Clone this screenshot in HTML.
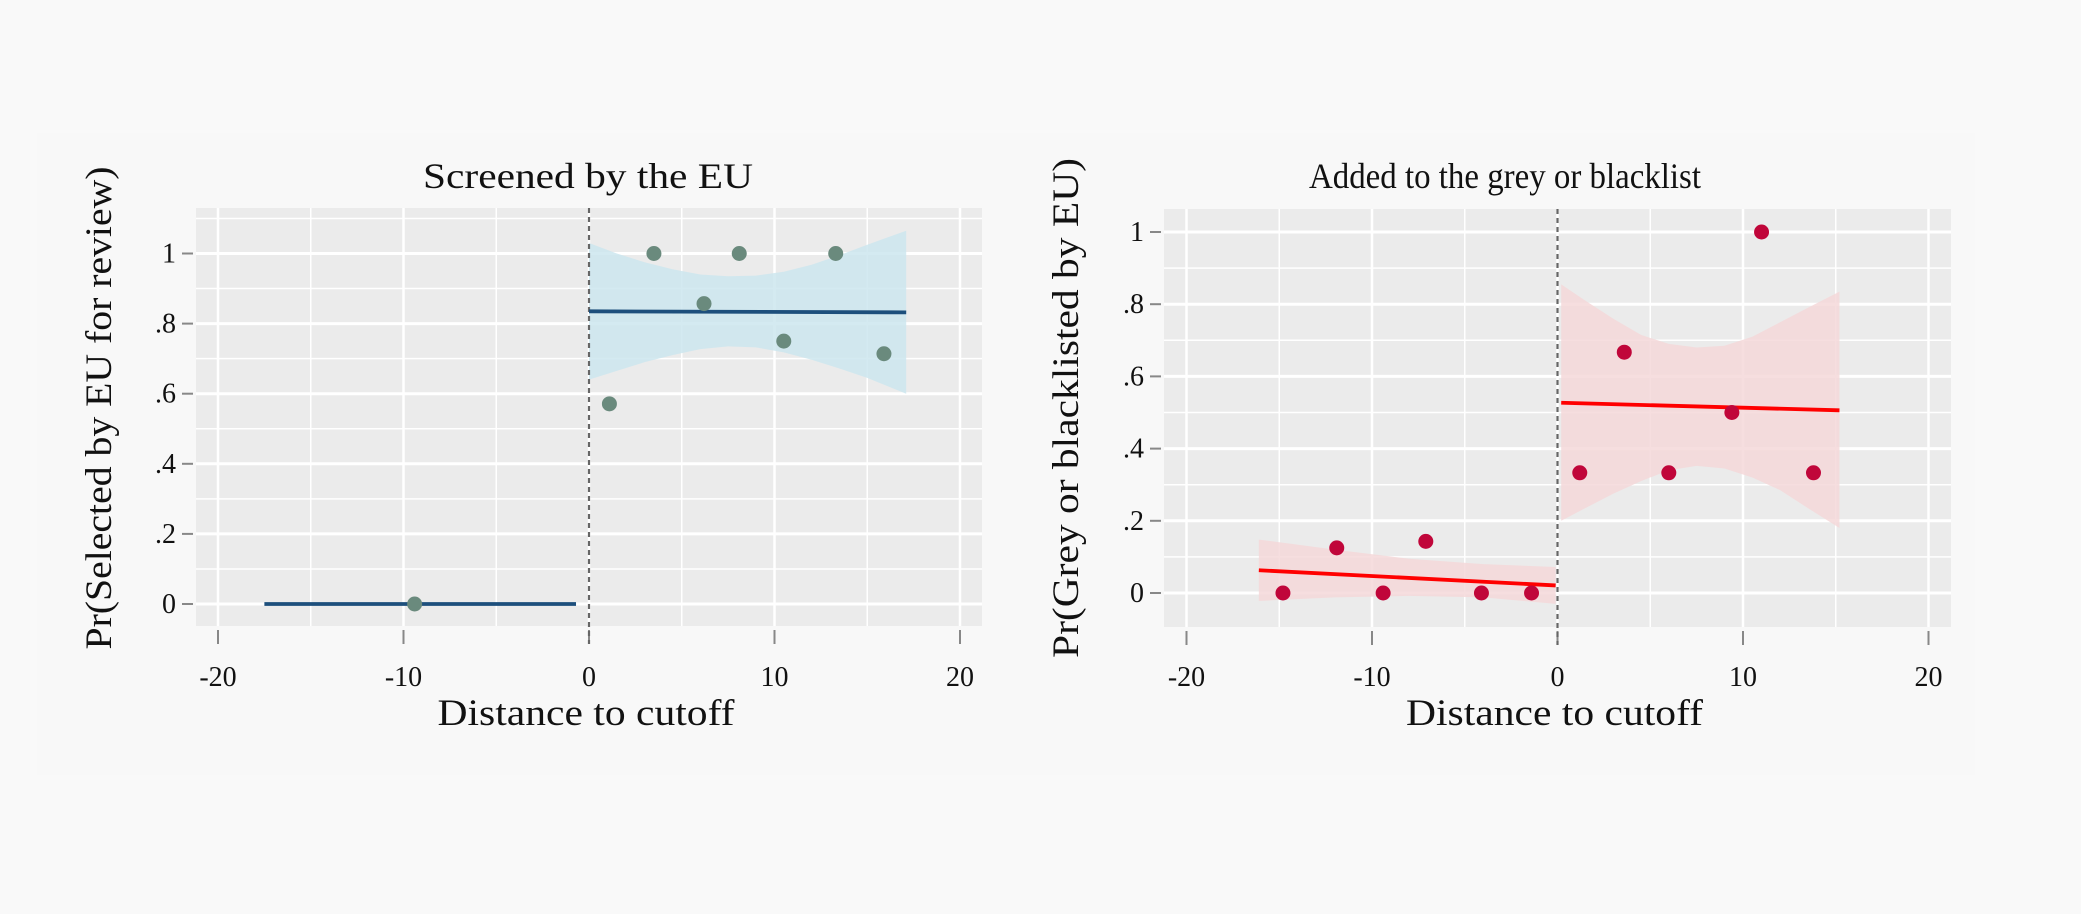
<!DOCTYPE html>
<html><head><meta charset="utf-8">
<style>
html,body{margin:0;padding:0;background:#f9f9f9;}
svg{display:block;font-family:"Liberation Serif","DejaVu Serif",serif;}
</style></head>
<body>
<svg id="chart" width="2081" height="914" viewBox="0 0 2081 914" xmlns="http://www.w3.org/2000/svg">
<rect x="0" y="0" width="2081" height="914" fill="#f9f9f9"/>
<rect x="37" y="133" width="1938" height="642" fill="#f8f8f8"/>
</svg>
<script>
// ---------- data ----------
const xTicks = [-20, -10, 0, 10, 20];
const yTicksL = [0, 0.2, 0.4, 0.6, 0.8, 1];
const yTickLabelsL = ["0", ".2", ".4", ".6", ".8", "1"];
const yTicksR = [0, 0.2, 0.4, 0.6, 0.8, 1];
const yTickLabelsR = ["0", ".2", ".4", ".6", ".8", "1"];

// Left panel: screened by the EU
const leftPtsX = [-9.4, 1.1, 3.5, 6.2, 8.1, 10.5, 13.3, 15.9];
const leftPtsY = [0, 0.571, 1, 0.857, 1, 0.75, 1, 0.714];
const leftFitBelowX = [-17.5, -0.7];
const leftFitBelowY = [0, 0];
const leftFitAboveX = [0, 17.1];
const leftFitAboveY = [0.835, 0.832];
const leftBandX = [0, 1.5, 3, 4.5, 6, 7.5, 9, 10.5, 12, 13.5, 15, 17.1];
const leftBandLo = [0.64, 0.665, 0.69, 0.71, 0.727, 0.735, 0.732, 0.718, 0.697, 0.672, 0.645, 0.60];
const leftBandHi = [1.03, 1.0, 0.975, 0.955, 0.94, 0.935, 0.937, 0.948, 0.968, 0.995, 1.025, 1.065];

// Right panel: grey or blacklist
const rightPtsX = [-14.8, -11.9, -9.4, -7.1, -4.1, -1.4, 1.2, 3.6, 6.0, 9.4, 11.0, 13.8];
const rightPtsY = [0, 0.125, 0, 0.143, 0, 0, 0.333, 0.667, 0.333, 0.5, 1, 0.333];
const rightFitBelowX = [-16.1, -0.1];
const rightFitBelowY = [0.063, 0.021];
const rightFitAboveX = [0.2, 15.2];
const rightFitAboveY = [0.527, 0.506];
const rightBandBelowX = [-16.1, -12, -8, -4, -0.1];
const rightBandBelowLo = [-0.022, -0.012, -0.008, -0.012, -0.03];
const rightBandBelowHi = [0.148, 0.12, 0.095, 0.08, 0.072];
const rightBandAboveX = [0.2, 1.5, 3, 4.5, 6, 7.5, 9, 10.5, 12, 13.5, 15.2];
const rightBandAboveLo = [0.2, 0.235, 0.275, 0.31, 0.34, 0.352, 0.345, 0.32, 0.285, 0.235, 0.18];
const rightBandAboveHi = [0.855, 0.81, 0.76, 0.715, 0.69, 0.68, 0.685, 0.71, 0.75, 0.79, 0.835];

// ---------- drawing ----------
const NS = "http://www.w3.org/2000/svg";
const svg = document.getElementById('chart');
function mk(tag, attrs, parent) {
  const e = document.createElementNS(NS, tag);
  for (const k in attrs) e.setAttribute(k, attrs[k]);
  (parent || svg).appendChild(e);
  return e;
}

function panel(cfg) {
  const g = mk('g', {});
  
  
  const X = v => cfg.x0 + v * cfg.xs;
  const Y = v => cfg.y0 - v * cfg.ys;
  const bg = mk('rect', {x: cfg.px, y: cfg.py, width: cfg.pw, height: cfg.ph, fill: '#ebebeb'}, g);
  
  
  for (let v = -20; v <= 20; v += 5) {
    const l = mk('line', {x1: X(v), x2: X(v), y1: cfg.py, y2: cfg.py + cfg.ph, stroke: '#fff', 'stroke-width': v % 10 === 0 ? 2.5 : 1.5}, g);
    
    
  }
  for (let i = -1; i <= 11; i++) {
    const v = i / 10;
    const yy = Y(v);
    if (yy < cfg.py || yy > cfg.py + cfg.ph) continue;
    const l = mk('line', {x1: cfg.px, x2: cfg.px + cfg.pw, y1: yy, y2: yy, stroke: '#fff', 'stroke-width': i % 2 === 0 ? 3 : 1.5}, g);
    
    
  }
  cfg.yTicks.forEach((v, i) => {
    const t = mk('line', {x1: cfg.px - 14, x2: cfg.px - 3, y1: Y(v), y2: Y(v), stroke: '#888', 'stroke-width': 2}, g);
    
    
    const tx = mk('text', {x: cfg.px - 20, y: Y(v) + 9, 'text-anchor': 'end', 'font-size': 28, fill: '#111'}, g);
    tx.textContent = cfg.yLabels[i];
    
    
  });
  xTicks.forEach(v => {
    const t = mk('line', {x1: X(v), x2: X(v), y1: cfg.py + cfg.ph + 4, y2: cfg.py + cfg.ph + 18, stroke: '#888', 'stroke-width': 2}, g);
    
    
    const tx = mk('text', {x: X(v), y: 686, 'text-anchor': 'middle', 'font-size': 28, fill: '#111'}, g);
    tx.textContent = String(v);
    
    
  });
  cfg.bands.forEach(b => {
    let d = b.x.map((v, i) => (i ? 'L' : 'M') + X(v) + ',' + Y(b.hi[i])).join(' ');
    for (let i = b.x.length - 1; i >= 0; i--) d += ' L' + X(b.x[i]) + ',' + Y(b.lo[i]);
    const p = mk('path', {d: d + ' Z', fill: cfg.bandColor, 'fill-opacity': 0.85}, g);
    
    
  });
  const c = mk('line', {x1: X(0), x2: X(0), y1: cfg.py, y2: cfg.py + cfg.ph + 18, stroke: '#666', 'stroke-width': 2.2, 'stroke-dasharray': '5,4'}, g);
  
  
  cfg.fits.forEach(f => {
    const l = mk('line', {x1: X(f.x[0]), x2: X(f.x[1]), y1: Y(f.y[0]), y2: Y(f.y[1]), stroke: cfg.lineColor, 'stroke-width': 3.8}, g);
    
    
  });
  cfg.ptsX.forEach((v, i) => {
    const p = mk('circle', {cx: X(v), cy: Y(cfg.ptsY[i]), r: 7.5, fill: cfg.ptColor}, g);
    
    
  });
  const t = mk('text', {x: cfg.titleX, y: 188, 'text-anchor': 'middle', 'font-size': 36, fill: '#111', textLength: cfg.titleLen, lengthAdjust: 'spacingAndGlyphs'}, g);
  t.textContent = cfg.title;
  
  
  const xt = mk('text', {x: cfg.px + cfg.pw / 2 - 3, y: 725, 'text-anchor': 'middle', 'font-size': 37, fill: '#111', textLength: 297, lengthAdjust: 'spacingAndGlyphs'}, g);
  xt.textContent = 'Distance to cutoff';
  
  
  const yt = mk('text', {x: 0, y: 0, 'text-anchor': 'middle', 'font-size': 37, fill: '#111', textLength: cfg.ytLen, lengthAdjust: 'spacingAndGlyphs', transform: 'translate(' + cfg.ytx + ',' + cfg.ytCy + ') rotate(-90)'}, g);
  yt.textContent = cfg.ytitle;
  
  
}

panel({
  name: 'screened-panel', px: 196, py: 208, pw: 786, ph: 418,
  x0: 589, xs: 18.55, y0: 604, ys: 350.5,
  yTicks: yTicksL, yLabels: yTickLabelsL,
  bands: [{x: leftBandX, lo: leftBandLo, hi: leftBandHi}],
  bandColor: '#cce6ef', lineColor: '#1d4f7c', ptColor: '#6a8a7d',
  fits: [{x: leftFitBelowX, y: leftFitBelowY}, {x: leftFitAboveX, y: leftFitAboveY}],
  ptsX: leftPtsX, ptsY: leftPtsY,
  title: 'Screened by the EU', titleX: 588, titleLen: 330,
  ytitle: 'Pr(Selected by EU for review)', ytx: 111, ytCy: 408, ytLen: 483
});
panel({
  name: 'blacklist-panel', px: 1164, py: 209, pw: 787, ph: 418,
  x0: 1557.5, xs: 18.55, y0: 593, ys: 361,
  yTicks: yTicksR, yLabels: yTickLabelsR,
  bands: [{x: rightBandBelowX, lo: rightBandBelowLo, hi: rightBandBelowHi}, {x: rightBandAboveX, lo: rightBandAboveLo, hi: rightBandAboveHi}],
  bandColor: '#f5d8d9', lineColor: '#ff0000', ptColor: '#c0063a',
  fits: [{x: rightFitBelowX, y: rightFitBelowY}, {x: rightFitAboveX, y: rightFitAboveY}],
  ptsX: rightPtsX, ptsY: rightPtsY,
  title: 'Added to the grey or blacklist', titleX: 1505, titleLen: 392,
  ytitle: 'Pr(Grey or blacklisted by EU)', ytx: 1078, ytCy: 408, ytLen: 500
});
</script>
</body></html>
